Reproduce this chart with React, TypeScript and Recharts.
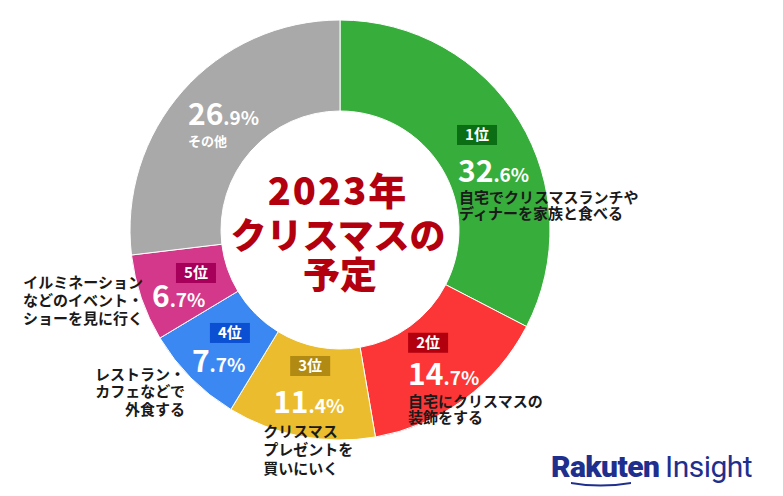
import React from 'react';
import { PieChart, Pie, Cell } from 'recharts';

const categories = [
  '自宅でクリスマスランチやディナーを家族と食べる',
  '自宅にクリスマスの装飾をする',
  'クリスマスプレゼントを買いにいく',
  'レストラン・カフェなどで外食する',
  'イルミネーションなどのイベント・ショーを見に行く',
  'その他',
];
const labelLines = [
  ['自宅でクリスマスランチや', 'ディナーを家族と食べる'],
  ['自宅にクリスマスの', '装飾をする'],
  ['クリスマス', 'プレゼントを', '買いにいく'],
  ['レストラン・', 'カフェなどで', '外食する'],
  ['イルミネーション', 'などのイベント・', 'ショーを見に行く'],
  ['その他'],
];
const values = [32.6, 14.7, 11.4, 7.7, 6.7, 26.9];
const ranks = ['1位', '2位', '3位', '4位', '5位', ''];
const titleLines = ['2023年', 'クリスマスの', '予定'];

const data = categories.map((name, i) => ({ name, value: values[i] }));

const FONT = '"Noto Sans CJK JP", "Noto Sans", sans-serif';
const sliceColors = ['#37ad3b', '#fc3636', '#ebbc2e', '#3c88f2', '#d4388b', '#a9a9a9'];
const badgeColors = ['#0b6e14', '#b3000f', '#b08a12', '#0b50d2', '#a6005a', ''];

// label offsets relative to the middle of each ring segment
const layout = [
  { bx: -23.5, by: -19.5, px: -22.5, py: 37.5, dx: -21.5, dy: 58.5, lh: 16, anchor: 'start', fs: 15, color: '#1a1a1a' },
  { bx: -29, by: -30, px: -29, py: 22, dx: -29, dy: 44, lh: 16, anchor: 'start', fs: 15, color: '#1a1a1a' },
  { bx: -19, by: -35.6, px: -36, py: 21.4, dx: -46, dy: 45.4, lh: 18.5, anchor: 'start', fs: 15, color: '#1a1a1a' },
  { bx: -13.4, by: -23, px: -31.4, py: 26, dx: -38.4, dy: 34, lh: 17.5, anchor: 'end', fs: 15, color: '#1a1a1a' },
  { bx: -8.4, by: -20.3, px: -32.4, py: 23.7, dx: -41.4, dy: 4.7, lh: 18, anchor: 'end', fs: 15, color: '#1a1a1a' },
  { bx: 0, by: 0, px: -29, py: 4.1, dx: -29, dy: 25.1, lh: 16, anchor: 'start', fs: 13, color: '#ffffff' },
];

const RAD = Math.PI / 180;

const renderLabel = (props: any) => {
  const { cx, cy, midAngle, innerRadius, outerRadius, index } = props;
  const r = (innerRadius + outerRadius) / 2;
  const mx = cx + r * Math.cos(-midAngle * RAD);
  const my = cy + r * Math.sin(-midAngle * RAD);
  const l = layout[index];
  const [whole, dec] = values[index].toFixed(1).split('.');
  return (
    <g key={`lbl-${index}`} fontFamily={FONT}>
      {ranks[index] && (
        <g>
          <rect x={mx + l.bx} y={my + l.by} width={40} height={20} fill={badgeColors[index]} />
          <text
            x={mx + l.bx + 20}
            y={my + l.by + 15}
            textAnchor="middle"
            fill="#fff"
            fontSize={15}
            fontWeight={700}
          >
            {ranks[index]}
          </text>
        </g>
      )}
      <text x={mx + l.px} y={my + l.py} fill="#fff" fontWeight={700}>
        <tspan fontSize={30}>{whole}</tspan>
        <tspan fontSize={19}>.{dec}%</tspan>
      </text>
      <text
        x={mx + l.dx}
        y={my + l.dy}
        fill={l.color}
        fontSize={l.fs}
        fontWeight={700}
        textAnchor={l.anchor as any}
      >
        {labelLines[index].map((s, j) => (
          <tspan key={j} x={mx + l.dx} dy={j === 0 ? 0 : l.lh}>
            {s}
          </tspan>
        ))}
      </text>
    </g>
  );
};

export default function App() {
  return (
    <div style={{ position: 'absolute', left: 0, top: 0, width: 783, height: 496, background: '#fff' }}>
      <PieChart width={783} height={496} margin={{ top: 0, right: 0, bottom: 0, left: 0 }}>
        <Pie
          data={data}
          dataKey="value"
          nameKey="name"
          cx={340}
          cy={230}
          innerRadius={119}
          outerRadius={210}
          startAngle={90}
          endAngle={-270}
          stroke="#fff"
          strokeWidth={1}
          label={renderLabel}
          labelLine={false}
          isAnimationActive={false}
        >
          {data.map((d, i) => (
            <Cell key={d.name} fill={sliceColors[i]} />
          ))}
        </Pie>
      </PieChart>
      <svg
        width={783}
        height={496}
        style={{ position: 'absolute', left: 0, top: 0, pointerEvents: 'none' }}
      >
        <g fontFamily={FONT} fontWeight={900} fill="#b3000e" textAnchor="middle">
          <text x={338} y={205} fontSize={38} letterSpacing={2}>
            {titleLines[0]}
          </text>
          <text x={338} y={249} fontSize={36}>
            {titleLines[1]}
          </text>
          <text x={340} y={289} fontSize={37}>
            {titleLines[2]}
          </text>
        </g>
        <g fill="#1f2f8e">
          <text x={551} y={477} fontFamily="Roboto, sans-serif" fontWeight={900} fontSize={30} letterSpacing={-0.6}>
            Rakuten
          </text>
          <text x={665} y={477} fontFamily="Roboto, sans-serif" fontWeight={400} fontSize={30} letterSpacing={-0.5}>
            Insight
          </text>
          <path d="M571 482 Q600 487 631 482 L631 484 Q600 489 571 484 Z" />
        </g>
      </svg>
    </div>
  );
}
